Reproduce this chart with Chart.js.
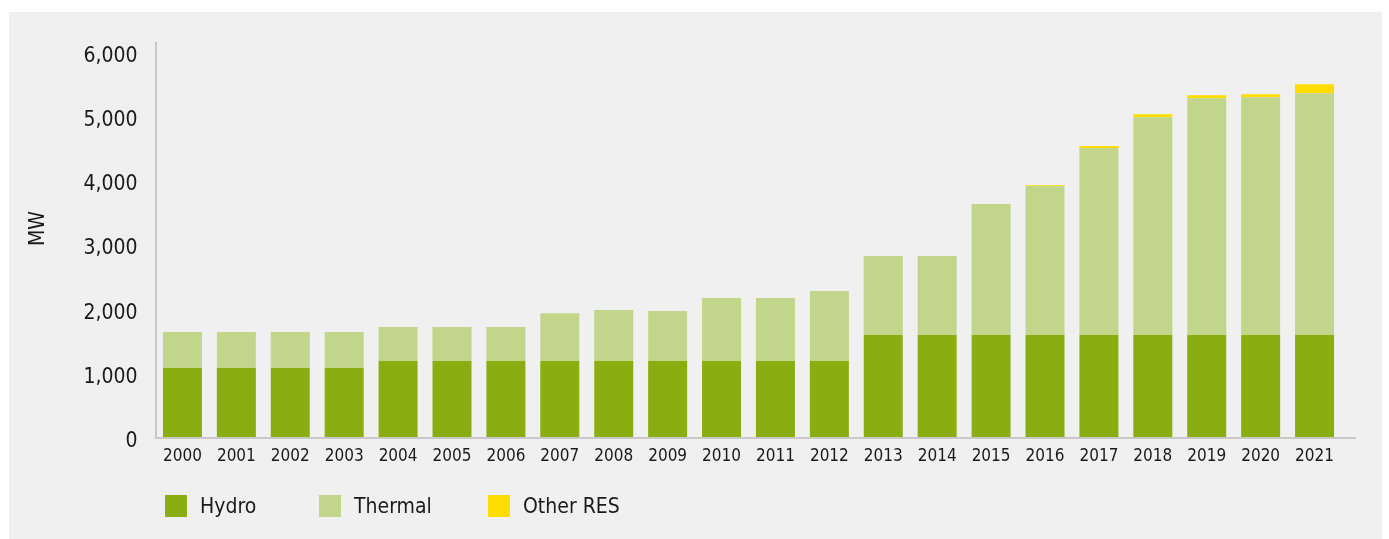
<!DOCTYPE html>
<html>
<head>
<meta charset="utf-8">
<script src="https://cdn.jsdelivr.net/npm/chart.js@4"></script>
<style>
  html, body { margin: 0; padding: 0; background: #ffffff; }
  #panel {
    position: absolute; left: 9px; top: 12px;
    width: 1373px; height: 527px; background: #f0f0f0;
  }
  #c { position: absolute; left: 0; top: 0; }
  .lg-item {
    position: absolute; top: 483px; height: 22px;
    display: flex; align-items: center;
    font-family: "DejaVu Sans Condensed", "Liberation Sans Narrow", sans-serif;
    font-size: 21px; color: #1a1a1a; white-space: nowrap;
  }
  .lg-box { width: 22px; height: 22px; margin-right: 13px; }
</style>
</head>
<body>
<div id="panel">
  <canvas id="c" width="1373" height="527"></canvas>
</div>
<script>
// Installed capacity by source, MW
const years = ['2000','2001','2002','2003','2004','2005','2006','2007','2008','2009','2010',
               '2011','2012','2013','2014','2015','2016','2017','2018','2019','2020','2021'];
const hydro    = [1075,1075,1075,1075,1185,1185,1185,1185,1185,1185,1185,
                  1185,1185,1590,1590,1590,1590,1590,1590,1590,1590,1590];
const thermal  = [560,560,560,560,530,530,530,745,795,780,980,
                  980,1090,1230,1230,2040,2320,2912,3394,3690,3706,3768];
const otherRes = [0,0,0,0,0,0,0,0,0,0,0,
                  0,0,0,0,0,15,31,47,47,47,140];
const seriesNames = ['Hydro', 'Thermal', 'Other RES'];
const yTickValues = [0, 1000, 2000, 3000, 4000, 5000, 6000];
const yMax = 6140;

const FONT = '"DejaVu Sans Condensed", "Liberation Sans Narrow", sans-serif';
const TEXT = '#1a1a1a';
const AXIS = '#c8c8c8';

// Baseline under the bars, running a little past the last category
const baselinePlugin = {
  id: 'baseline',
  afterDatasetsDraw(chart) {
    const { ctx, chartArea } = chart;
    ctx.save();
    ctx.strokeStyle = AXIS;
    ctx.lineWidth = 2;
    ctx.beginPath();
    ctx.moveTo(chartArea.left - 1, chartArea.bottom + 1);
    ctx.lineTo(chartArea.right + 14.5, chartArea.bottom + 1);
    ctx.stroke();
    ctx.restore();
  }
};

// Unit label on the left
const unitPlugin = {
  id: 'unitLabel',
  afterDraw(chart) {
    const { ctx } = chart;
    ctx.save();
    ctx.translate(30, 216.5);
    ctx.rotate(-Math.PI / 2);
    ctx.font = '21px ' + FONT;
    ctx.fillStyle = TEXT;
    ctx.textAlign = 'center';
    ctx.textBaseline = 'middle';
    ctx.fillText('MW', 0, 0);
    ctx.restore();
  }
};

const chart = new Chart(document.getElementById('c'), {
  type: 'bar',
  data: {
    labels: years,
    datasets: [
      { label: seriesNames[0], data: hydro,    backgroundColor: '#8aae12' },
      { label: seriesNames[1], data: thermal,  backgroundColor: '#c1d68a' },
      { label: seriesNames[2], data: otherRes, backgroundColor: '#ffdd00' }
    ]
  },
  options: {
    responsive: false,
    devicePixelRatio: 1,
    animation: false,
    layout: { padding: { top: 31, right: 40.5, bottom: 0, left: 0 } },
    datasets: {
      bar: { categoryPercentage: 1, barPercentage: 0.7236, borderWidth: 0 }
    },
    plugins: {
      legend: { display: false },
      tooltip: { enabled: false }
    },
    scales: {
      x: {
        stacked: true,
        grid: { display: false, drawTicks: false },
        border: { display: false },
        ticks: {
          color: TEXT, font: { family: FONT, size: 17 },
          padding: 9, maxRotation: 0, autoSkip: false
        },
        afterFit(scale) { scale.height = 102; }
      },
      y: {
        stacked: true,
        min: 0,
        max: yMax,
        grid: { display: false, drawTicks: false },
        border: { display: true, color: AXIS, width: 2 },
        afterBuildTicks(scale) {
          scale.ticks = yTickValues.map(v => ({ value: v }));
        },
        ticks: {
          color: TEXT,
          font: { family: FONT, size: 21 },
          padding: 18,
          labelOffset: 4.5,
          callback: v => v.toLocaleString('en-US')
        },
        afterFit(scale) { scale.width = 146.5; }
      }
    }
  },
  plugins: [baselinePlugin, unitPlugin]
});

// Legend row built from the chart's datasets
const panel = document.getElementById('panel');
const legendLefts = [156, 310, 479];
chart.data.datasets.forEach((ds, i) => {
  const item = document.createElement('div');
  item.className = 'lg-item';
  item.style.left = legendLefts[i] + 'px';
  const box = document.createElement('span');
  box.className = 'lg-box';
  box.style.background = ds.backgroundColor;
  const txt = document.createElement('span');
  txt.textContent = ds.label;
  item.appendChild(box);
  item.appendChild(txt);
  panel.appendChild(item);
});
</script>
</body>
</html>
